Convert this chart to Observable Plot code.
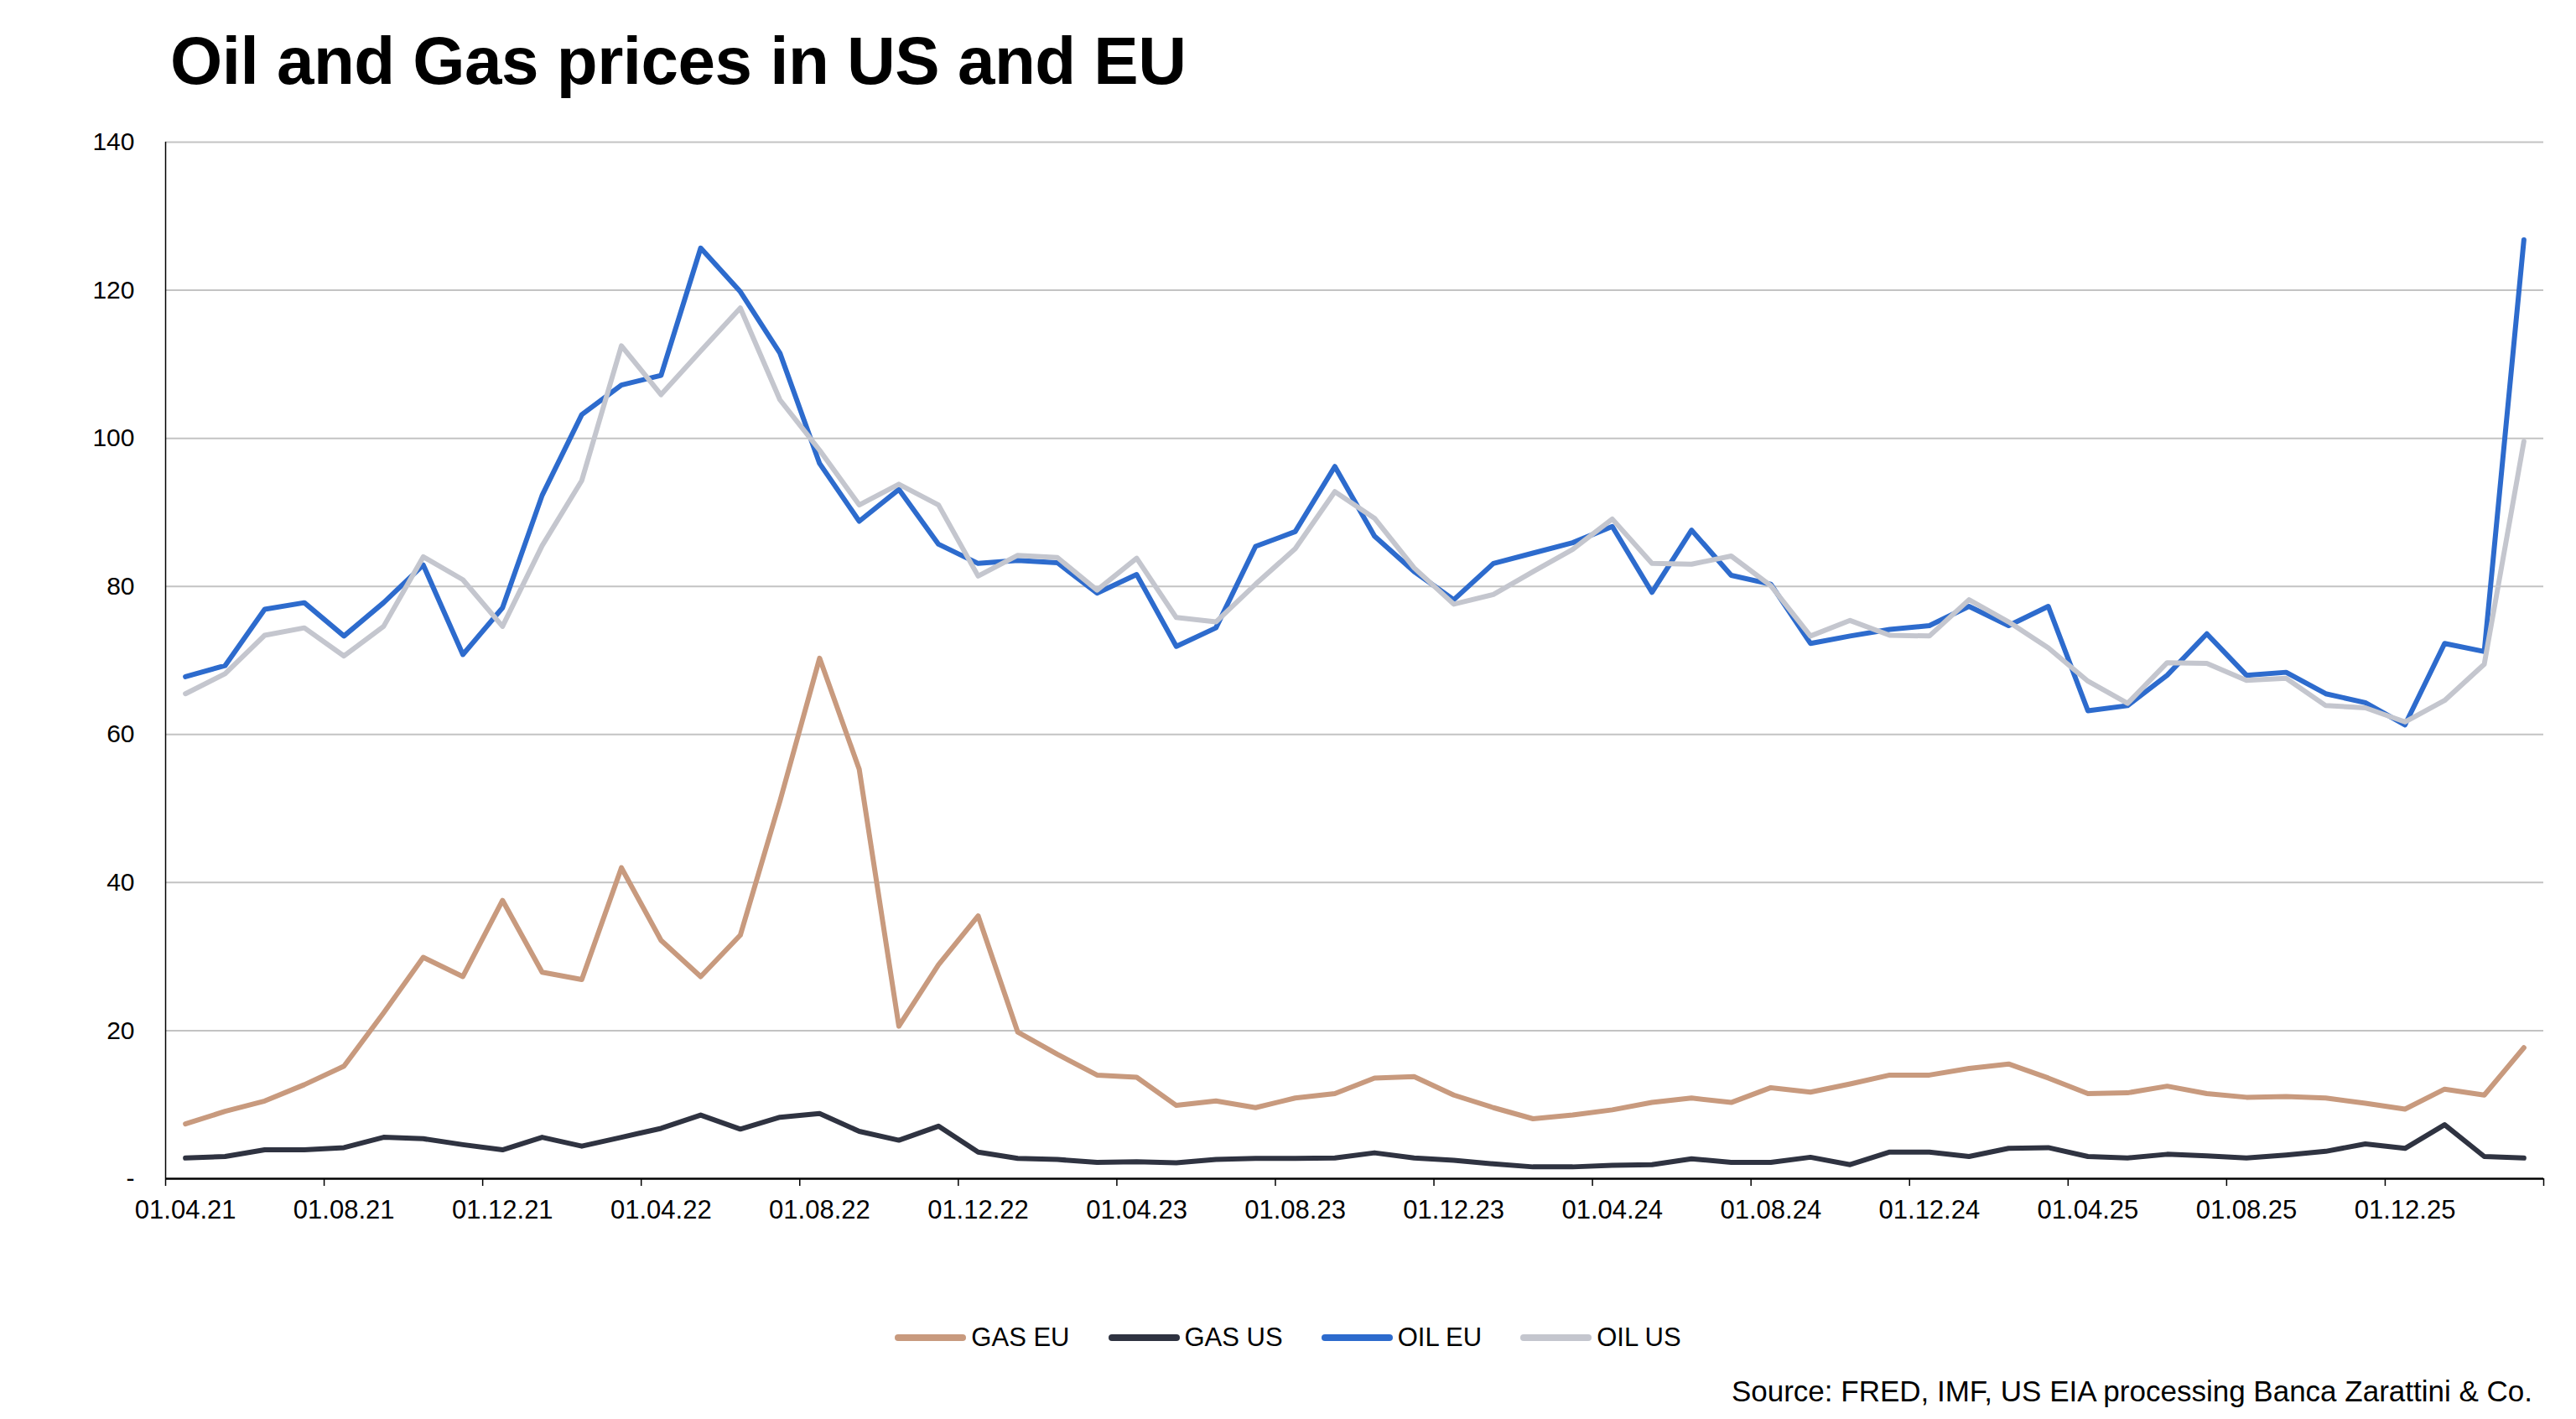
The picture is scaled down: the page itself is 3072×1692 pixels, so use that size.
<!DOCTYPE html>
<html>
<head>
<meta charset="utf-8">
<script src="https://cdn.jsdelivr.net/npm/d3@7"></script>
<script src="https://cdn.jsdelivr.net/npm/@observablehq/plot@0.6"></script>
<style>
  html, body { margin: 0; padding: 0; background: #fff; }
  #page { position: relative; width: 3072px; height: 1692px; background: #fff; font-family: "Liberation Sans", Arial, Helvetica, sans-serif; color: #000; overflow: hidden; }
  #title { position: absolute; left: 203px; top: 33px; font-size: 80px; line-height: 80px; font-weight: bold; letter-spacing: -0.5px; white-space: nowrap; }
  #chart { position: absolute; left: 0; top: 130px; }
  #legend { position: absolute; left: 0; width: 3072px; top: 1575px; height: 40px; display: flex; justify-content: center; align-items: center; gap: 46px; font-size: 31px; }
  .item { display: flex; align-items: center; gap: 6px; }
  .sw { width: 85px; height: 8px; border-radius: 4px; }
  #source { position: absolute; right: 52px; top: 1641px; font-size: 35px; line-height: 35px; white-space: nowrap; }
</style>
</head>
<body>
<div id="page">
  <div id="title">Oil and Gas prices in US and EU</div>
  <div id="chart"></div>
  <div id="legend"></div>
  <div id="source">Source: FRED, IMF, US EIA processing Banca Zarattini &amp; Co.</div>
</div>
<script>
const months = [
  "2021-04","2021-05","2021-06","2021-07","2021-08","2021-09","2021-10","2021-11","2021-12",
  "2022-01","2022-02","2022-03","2022-04","2022-05","2022-06","2022-07","2022-08","2022-09","2022-10","2022-11","2022-12",
  "2023-01","2023-02","2023-03","2023-04","2023-05","2023-06","2023-07","2023-08","2023-09","2023-10","2023-11","2023-12",
  "2024-01","2024-02","2024-03","2024-04","2024-05","2024-06","2024-07","2024-08","2024-09","2024-10","2024-11","2024-12",
  "2025-01","2025-02","2025-03","2025-04","2025-05","2025-06","2025-07","2025-08","2025-09","2025-10","2025-11","2025-12",
  "2026-01","2026-02","2026-03"
];
const tickLabels = ["01.04.21","01.08.21","01.12.21","01.04.22","01.08.22","01.12.22","01.04.23","01.08.23",
  "01.12.23","01.04.24","01.08.24","01.12.24","01.04.25","01.08.25","01.12.25"];
const yTicks = [0, 20, 40, 60, 80, 100, 120, 140];
const seriesNames = ["GAS EU", "GAS US", "OIL EU", "OIL US"];
const gasEU = [7.4,9.1,10.5,12.7,15.2,22.4,29.9,27.3,37.6,27.9, 26.9,42.0,32.2,27.3,32.9,51.0,70.3,55.3,20.6,28.9,
  35.5,19.8,16.8,14.0,13.7,9.9,10.5,9.6,10.9,11.5, 13.6,13.8,11.3,9.6,8.1,8.6,9.3,10.3,10.9,10.3,
  12.3,11.7,12.8,14.0,14.0,14.9,15.5,13.6,11.5,11.6, 12.5,11.5,11.0,11.1,10.9,10.2,9.4,12.1,11.3,17.7];
const gasUS = [2.8,3.0,3.9,3.9,4.2,5.6,5.4,4.6,3.9,5.6, 4.4,5.6,6.8,8.6,6.7,8.3,8.8,6.4,5.2,7.1,
  3.6,2.75,2.6,2.2,2.3,2.15,2.6,2.75,2.75,2.8, 3.5,2.8,2.5,2.0,1.6,1.6,1.8,1.9,2.7,2.2,
  2.2,2.9,1.9,3.6,3.6,3.0,4.1,4.2,3.0,2.8, 3.3,3.1,2.8,3.2,3.7,4.7,4.1,7.3,3.0,2.8];
const oilEU = [67.8,69.3,76.9,77.8,73.3,77.8,82.9,70.8,77.1,92.3, 103.2,107.2,108.5,125.7,119.8,111.5,96.6,88.8,93.1,85.7,
  83.1,83.5,83.2,79.1,81.6,71.9,74.4,85.4,87.4,96.2, 86.8,82.0,78.2,83.1,84.5,85.9,88.1,79.2,87.6,81.5,
  80.3,72.3,73.3,74.2,74.7,77.3,74.7,77.3,63.2,63.9, 68.0,73.6,68.0,68.4,65.5,64.3,61.3,72.3,71.2,126.8];
const oilUS = [65.5,68.2,73.4,74.4,70.6,74.6,84.0,80.9,74.6,85.5, 94.3,112.5,105.9,111.8,117.6,105.2,98.4,91.0,93.8,91.0,
  81.4,84.2,83.9,79.5,83.8,75.8,75.2,80.3,85.1,92.8, 89.2,82.5,77.6,78.9,82.0,85.0,89.1,83.1,83.0,84.1,
  80.1,73.3,75.4,73.4,73.3,78.2,75.2,71.7,67.2,64.2, 69.7,69.6,67.3,67.6,63.9,63.6,61.7,64.6,69.5,99.6];

const seriesColors = ["#c89a7e", "#2f3341", "#2d6bcd", "#c4c6ce"];
const seriesValues = [gasEU, gasUS, oilEU, oilUS];

const data = seriesNames.flatMap((name, s) =>
  seriesValues[s].map((v, i) => ({series: name, idx: i, month: months[i], value: v})));

const labelIdx = tickLabels.map(l => {
  const [, mm, yy] = l.split(".");
  return months.indexOf("20" + yy + "-" + mm);
});
const boundaryTicks = labelIdx.map(i => i - 0.5).concat([months.length - 0.5]);

const font = '"Liberation Sans", Arial, Helvetica, sans-serif';

const chart = Plot.plot({
  width: 3072,
  height: 1340,
  marginTop: 39,
  marginBottom: 65,
  marginLeft: 197,
  marginRight: 39,
  style: {fontFamily: font, fontSize: "30px", color: "#000", background: "#fff"},
  x: {type: "linear", domain: [-0.5, months.length - 0.5]},
  y: {domain: [0, 140]},
  color: {domain: seriesNames, range: seriesColors},
  marks: [
    Plot.gridY(yTicks.filter(t => t > 0), {stroke: "#c3c3c3", strokeOpacity: 1, strokeWidth: 2}),
    Plot.axisY({ticks: yTicks, tickSize: 0, tickPadding: 37, tickFormat: d => d === 0 ? "-" : d3.format("d")(d), fontSize: 30, label: null}),
    Plot.axisX({ticks: boundaryTicks, tickSize: 9, tickFormat: () => "", strokeWidth: 1.5, label: null}),
    Plot.axisX({ticks: labelIdx, tickSize: 0, tickPadding: 25, tickFormat: i => tickLabels[labelIdx.indexOf(i)], fontSize: 31, label: null}),
    Plot.lineY(data, {x: "idx", y: "value", z: "series", stroke: "series", strokeWidth: 6, strokeLinejoin: "round", strokeLinecap: "round"}),
    Plot.ruleY([0], {stroke: "#000", strokeWidth: 2.5}),
    Plot.ruleX([-0.5], {stroke: "#000", strokeWidth: 1.5})
  ]
});
document.getElementById("chart").appendChild(chart);

const legend = document.getElementById("legend");
seriesNames.forEach((name, s) => {
  const item = document.createElement("div");
  item.className = "item";
  const sw = document.createElement("div");
  sw.className = "sw";
  sw.style.background = seriesColors[s];
  const t = document.createElement("span");
  t.textContent = name;
  item.appendChild(sw);
  item.appendChild(t);
  legend.appendChild(item);
});
</script>
</body>
</html>
